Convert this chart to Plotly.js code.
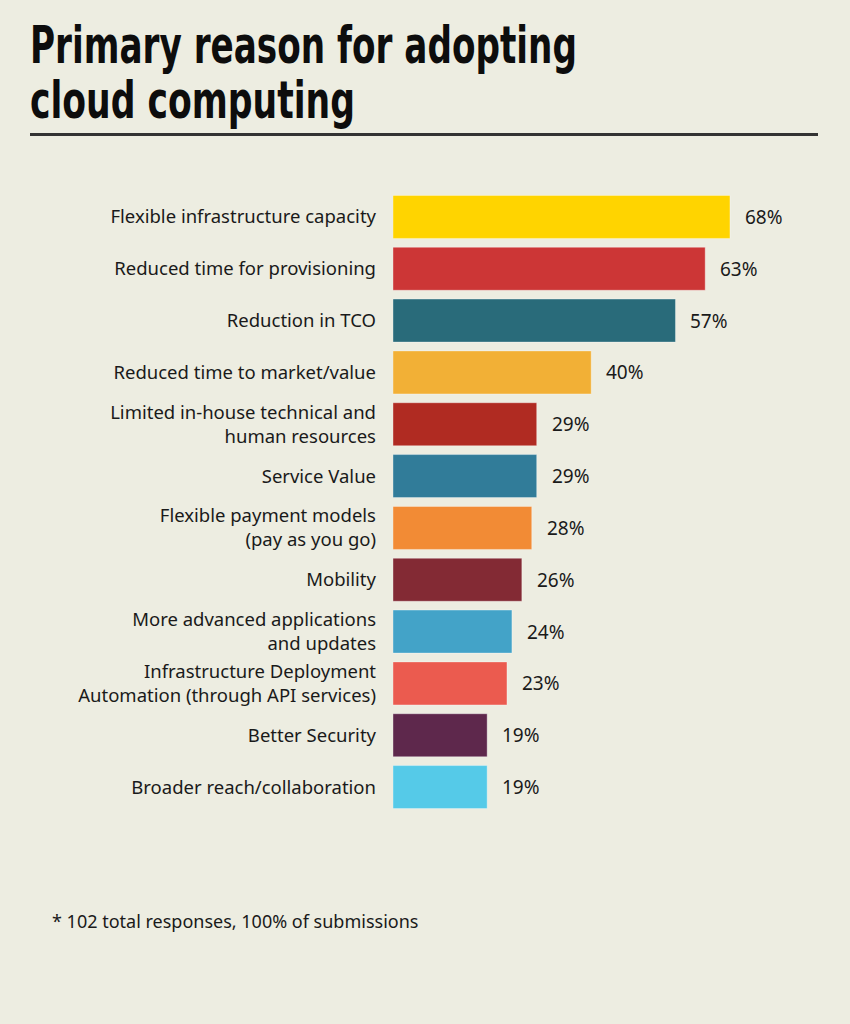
<!DOCTYPE html>
<html>
<head>
<meta charset="utf-8">
<script src="https://cdn.plot.ly/plotly-3.0.1.min.js"></script>
<style>html,body{margin:0;padding:0;background:#EDEDE1;}</style>
</head>
<body>
<div id="chart" style="width:850px;height:1024px;"></div>
<script>
var categories = [
  "Flexible infrastructure capacity",
  "Reduced time for provisioning",
  "Reduction in TCO",
  "Reduced time to market/value",
  "Limited in-house technical and<br>human resources",
  "Service Value",
  "Flexible payment models<br>(pay as you go)",
  "Mobility",
  "More advanced applications<br>and updates",
  "Infrastructure Deployment<br>Automation (through API services)",
  "Better Security",
  "Broader reach/collaboration"
];
var values = [68, 63, 57, 40, 29, 29, 28, 26, 24, 23, 19, 19];
var valueLabels = ["68%", "63%", "57%", "40%", "29%", "29%", "28%", "26%", "24%", "23%", "19%", "19%"];
var barColors = ["#FFD400", "#CC3636", "#296B7A", "#F2B036", "#B02B22", "#317C99", "#F28B35", "#832A34", "#43A3C8", "#EB5B4F", "#5E284C", "#55CAE8"];
var titleLines = ["Primary reason for adopting", "cloud computing"];
var footnote = "* 102 total responses, 100% of submissions";

var W = 850, H = 1024;
var mL = 393, mR = 11, mT = 190.5, mB = 210.5;
var pw = W - mL - mR, ph = H - mT - mB;
function px2x(p){ return (p - mL) / pw; }
function py2y(p){ return (H - mB - p) / ph; }

var bg = "#EDEDE1";
var textFont = "Noto Sans, Open Sans, sans-serif";
var titleFont = "DejaVu Sans Condensed, Liberation Sans Narrow, DejaVu Sans, sans-serif";

var trace = {
  type: "bar",
  orientation: "h",
  y: categories,
  x: values,
  marker: {color: barColors, line: {color: "rgba(255,255,255,0.35)", width: 1}},
  hoverinfo: "none"
};

var annotations = values.map(function(v, i){
  return {x: v, y: categories[i], xref: "x", yref: "y", text: valueLabels[i],
    showarrow: false, xanchor: "left", xshift: 13,
    font: {family: textFont, size: 19, color: "#1a1a1a"}};
});
annotations.push({xref: "paper", yref: "paper", x: px2x(50), y: py2y(922), xanchor: "left", yanchor: "middle",
  text: footnote, showarrow: false, font: {family: textFont, size: 18, color: "#1a1a1a"}});
var titleCenters = [45, 100];
titleLines.forEach(function(t, i){
  annotations.push({xref: "paper", yref: "paper", x: px2x(29), y: py2y(titleCenters[i]), xanchor: "left", yanchor: "middle",
    align: "left", borderpad: 0,
    text: t, showarrow: false, font: {family: titleFont, size: 51, color: "#0d0d0d", weight: "bold"}});
});

var layout = {
  width: W, height: H,
  paper_bgcolor: bg, plot_bgcolor: bg,
  margin: {l: mL, r: mR, t: mT, b: mB, pad: 0},
  xaxis: {range: [0, 90], visible: false, fixedrange: true},
  yaxis: {autorange: "reversed", showgrid: false, zeroline: false, showline: false, ticks: "",
    ticklabelstandoff: 16, tickfont: {family: textFont, size: 18.5, color: "#1a1a1a"}},
  bargap: 0.17,
  showlegend: false,
  annotations: annotations,
  shapes: [{type: "line", xref: "paper", yref: "paper", x0: px2x(30), x1: px2x(818), y0: py2y(134), y1: py2y(134),
    line: {color: "#333333", width: 3}}]
};

var titleWidths = [547, 325];
Plotly.newPlot("chart", [trace], layout, {displayModeBar: false, staticPlot: true}).then(function(gd){
  var texts = gd.querySelectorAll("g.annotation text");
  texts.forEach(function(el){
    var idx = titleLines.indexOf(el.textContent);
    if (idx >= 0) {
      el.setAttribute("textLength", titleWidths[idx]);
      el.setAttribute("lengthAdjust", "spacingAndGlyphs");
    }
  });
});
</script>
</body>
</html>
